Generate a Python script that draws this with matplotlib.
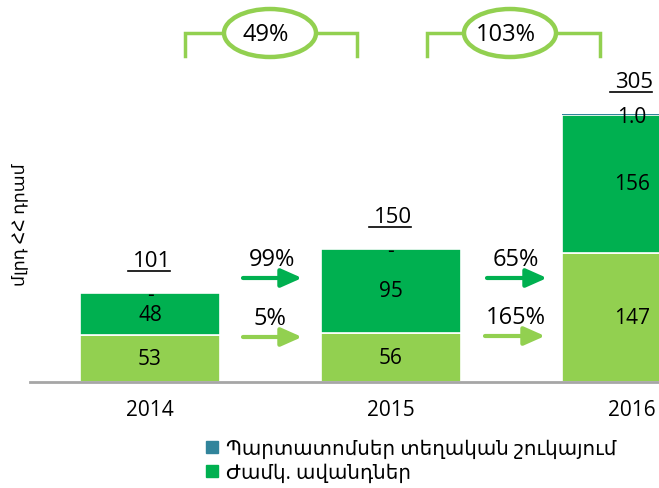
import matplotlib
matplotlib.use('Agg')
import matplotlib.pyplot as plt
from matplotlib.patches import Ellipse
from matplotlib.lines import Line2D

plt.rcParams['font.family'] = ['Open Sans', 'DejaVu Sans']

years = ['2014', '2015', '2016']
demand = [53, 56, 147]          # light green, bottom segment
time_dep = [48, 95, 156]        # Ժամկ. ավանդներ
bonds = [0, 0, 1.0]             # Պարտատոմսեր տեղական շուկայում
totals = [101, 150, 305]
bond_labels = ['-', '-', '1.0']
growth_time = ['99%', '65%']
growth_demand = ['5%', '165%']
growth_total = ['49%', '103%']

LIGHT = '#92D050'
DARK = '#00B050'
TEAL = '#31849B'

W, H = 659, 489
fig = plt.figure(figsize=(W / 100, H / 100), dpi=100)
base_px = 383
ax = fig.add_axes([30 / W, (H - base_px) / H, (W - 30) / W, base_px / H])
k = 0.88  # pixels per unit
ymax = base_px / k
x = list(range(len(years)))
bw = 140 / 241

ax.bar(x, demand, bw, color=LIGHT, edgecolor='white', linewidth=1.2, zorder=2)
ax.bar(x, time_dep, bw, bottom=demand, color=DARK, edgecolor='white', linewidth=1.2, zorder=2)
bot2 = [a + b for a, b in zip(demand, time_dep)]
ax.bar(x, bonds, bw, bottom=bot2, color=TEAL, linewidth=0, zorder=2)

ax.set_xlim(-120 / 241, 509 / 241)
ax.set_ylim(0, ymax)

fs = 15
for i in x:
    ax.text(i, demand[i] / 2, str(demand[i]), ha='center', va='center', fontsize=fs, zorder=3)
    ax.text(i, demand[i] + time_dep[i] / 2, str(time_dep[i]), ha='center', va='center', fontsize=fs, zorder=3)
    top = bot2[i] + bonds[i]
    ax.text(i, top - 2, bond_labels[i], ha='center', va='center', fontsize=fs, zorder=3)
    # totals, underlined
    ax.text(i + 0.01, top + 37, str(totals[i]), ha='center', va='center', fontsize=16)
    ax.plot([i - 0.092, i + 0.085], [top + 25.5, top + 25.5], color='black', lw=1.2)


def py(p):
    return (base_px - p) / k


def px(p):
    return (p - 150) / 241


# growth arrows between bars
arrows = [
    (243, 302, 279, DARK, growth_time[0], 272),
    (243, 302, 338, LIGHT, growth_demand[0], 270),
    (487, 547, 279, DARK, growth_time[1], 516),
    (485, 545, 337, LIGHT, growth_demand[1], 516),
]
for x0, x1, yy, c, lab, tx in arrows:
    ax.annotate('', xy=(px(x1), py(yy)), xytext=(px(x0), py(yy)),
                arrowprops=dict(arrowstyle='-|>,head_length=0.9,head_width=0.4',
                                lw=3, color=c, shrinkA=0, shrinkB=0,
                                mutation_scale=14))
    ax.text(px(tx), py(yy - 19), lab, ha='center', va='center', fontsize=17)

# total-growth brackets on top
brackets = [(185, 357, 270, growth_total[0]), (427, 600, 510, growth_total[1])]
for l, r, cx, lab in brackets:
    ax.plot([px(l), px(l), px(r), px(r)], [py(57), py(34), py(34), py(57)],
            color=LIGHT, lw=2.5, clip_on=False, solid_joinstyle='miter')
    ax.add_patch(Ellipse((px(cx), py(34)), 92 / 241, 48 / k, facecolor='white',
                         edgecolor=LIGHT, lw=3.2, clip_on=False, zorder=4))
    ax.text(px(cx - 4), py(35), lab, ha='center', va='center', fontsize=17, zorder=5)

for s in ['top', 'right', 'left']:
    ax.spines[s].set_visible(False)
ax.spines['bottom'].set_color('#A6A6A6')
ax.spines['bottom'].set_linewidth(2)
ax.set_yticks([])
ax.set_xticks(x)
ax.set_xticklabels(years, fontsize=15)
ax.tick_params(axis='x', length=0, pad=12)

fig.text(20 / W, 1 - 225 / H, 'մլրդ ՀՀ դրամ', rotation=90, ha='center', va='center', fontsize=12.5)

handles = [Line2D([], [], marker='s', color=TEAL, linestyle='None', markersize=9),
           Line2D([], [], marker='s', color=DARK, linestyle='None', markersize=8)]
fig.legend(handles, ['Պարտատոմսեր տեղական շուկայում', 'Ժամկ. ավանդներ'],
           loc='upper left', bbox_to_anchor=(205 / W, 1 - 440 / H), frameon=False,
           fontsize=14.3, handlelength=0.7, handletextpad=0.35, labelspacing=0.2,
           borderpad=0, borderaxespad=0)

fig.savefig('out.png', dpi=100)
